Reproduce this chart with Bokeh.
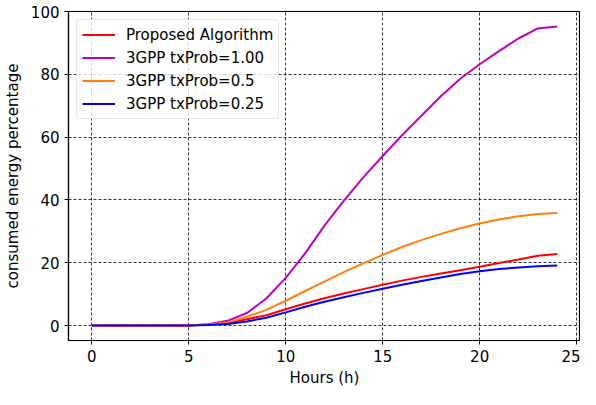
from bokeh.plotting import figure
from bokeh.models import Range1d, FixedTicker, Legend, LegendItem
from bokeh.embed import file_html
from bokeh.resources import INLINE

hours = list(range(0, 25))
proposed = [0, 0, 0, 0, 0, 0.05, 0.3, 0.8, 2.0, 3.3, 5.2, 7.0, 8.7, 10.2, 11.6, 13.0, 14.3, 15.5, 16.6, 17.6, 18.7, 19.9, 21.0, 22.2, 22.8]
tx100 = [0, 0, 0, 0, 0, 0.05, 0.4, 1.5, 4.0, 8.6, 15.2, 23.0, 31.8, 39.8, 47.2, 54.0, 60.6, 66.8, 73.0, 78.6, 83.2, 87.4, 91.4, 94.6, 95.2]
tx050 = [0, 0, 0, 0, 0, 0.05, 0.35, 1.0, 2.8, 5.0, 7.9, 11.0, 14.0, 17.0, 19.8, 22.5, 25.0, 27.2, 29.2, 31.0, 32.5, 33.8, 34.8, 35.5, 35.8]
tx025 = [0, 0, 0, 0, 0, 0.05, 0.2, 0.5, 1.3, 2.5, 4.2, 6.0, 7.6, 9.0, 10.4, 11.7, 13.0, 14.2, 15.3, 16.4, 17.3, 18.0, 18.5, 18.9, 19.1]

labels = ["Proposed Algorithm", "3GPP txProb=1.00", "3GPP txProb=0.5", "3GPP txProb=0.25"]
colors = ["#ff0000", "#bf00bf", "#ff7f0e", "#0000ff"]
series = [proposed, tx100, tx050, tx025]

x_ticks = [0, 5, 10, 15, 20, 25]
y_ticks = [0, 20, 40, 60, 80, 100]

FONT = "DejaVu Sans"
FS = "15px"

p = figure(width=580, height=389, output_backend="svg", toolbar_location=None,
           x_range=Range1d(-1.2, 25.2), y_range=Range1d(-4.76, 100.0),
           min_border_left=60, min_border_right=0, min_border_top=11, min_border_bottom=44)

renderers = []
for ys, c in zip(series, colors):
    r = p.line(hours, ys, line_color=c, line_width=2)
    renderers.append(r)

legend = Legend(items=[LegendItem(label=l, renderers=[r]) for l, r in zip(labels, renderers)],
                location="top_left")
legend.label_text_font = FONT
legend.label_text_font_size = FS
legend.label_text_color = "black"
legend.glyph_width = 33
legend.glyph_height = 19
legend.label_standoff = 11
legend.spacing = 4
legend.padding = 5
legend.margin = 8
legend.border_line_color = "#cccccc"
legend.border_line_width = 1
legend.border_radius = 4
legend.background_fill_alpha = 0.8
p.add_layout(legend)

p.outline_line_color = "black"
p.outline_line_width = 1.2
p.outline_line_alpha = 1

for ax in (p.xaxis[0], p.yaxis[0]):
    ax.axis_line_color = "black"
    ax.axis_line_width = 1.2
    ax.major_tick_line_color = "black"
    ax.major_tick_out = 4
    ax.major_tick_in = 0
    ax.minor_tick_line_color = None
    ax.major_label_text_font = FONT
    ax.major_label_text_font_size = FS
    ax.major_label_text_color = "black"
    ax.axis_label_text_font = FONT
    ax.axis_label_text_font_size = FS
    ax.axis_label_text_font_style = "normal"
    ax.axis_label_text_color = "black"

p.xaxis[0].ticker = FixedTicker(ticks=x_ticks)
p.yaxis[0].ticker = FixedTicker(ticks=y_ticks)
p.xaxis[0].axis_label = "Hours (h)"
p.yaxis[0].axis_label = "consumed energy percentage"
p.xaxis[0].axis_label_standoff = 4
p.yaxis[0].axis_label_standoff = 6

for g in (p.xgrid[0], p.ygrid[0]):
    g.grid_line_color = "black"
    g.grid_line_dash = "3 2"
    g.grid_line_width = 0.8
    g.grid_line_alpha = 1
p.xgrid[0].ticker = FixedTicker(ticks=x_ticks)
p.ygrid[0].ticker = FixedTicker(ticks=y_ticks)

open("out.html", "w").write(file_html(p, INLINE))
